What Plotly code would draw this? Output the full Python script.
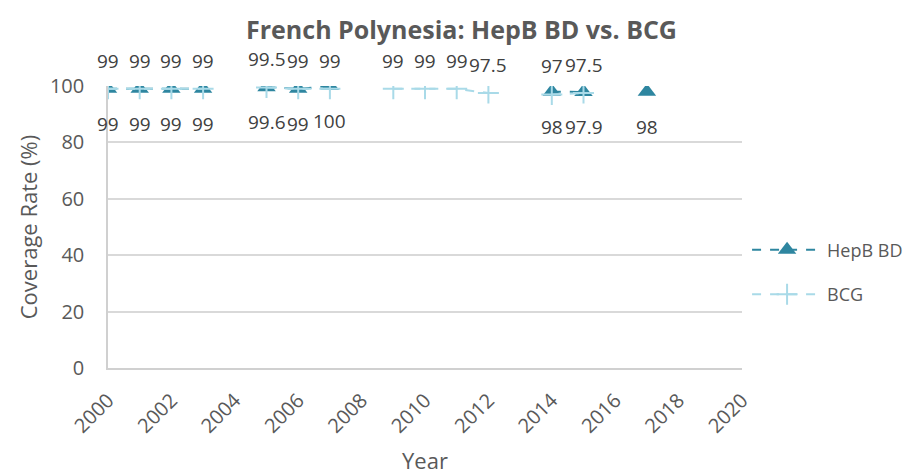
import plotly.graph_objects as go

years = list(range(2000, 2018))
hepb = [99, 99, 99, 99, None, 99.6, 99, 100, None, None, None, None, None, None, 98, 97.9, None, 98]
bcg = [99, 99, 99, 99, None, 99.5, 99, 99, None, 99, 99, 99, 97.5, None, 97, 97.5, None, None]

HEPB_COLOR = "#2E86A0"
BCG_COLOR = "#A9DAE8"
TXT = "#595959"
FONT = "Open Sans"

fig = go.Figure()
fig.add_trace(go.Scatter(
    x=years, y=hepb, name="HepB BD", mode="lines+markers", legendgroup="a",
    line=dict(color=HEPB_COLOR, width=2, dash="dash"),
    marker=dict(symbol="triangle-up", size=16, color=HEPB_COLOR),
    connectgaps=False,
))
fig.add_trace(go.Scatter(
    x=years, y=bcg, name="BCG", mode="lines+markers", legendgroup="b",
    line=dict(color=BCG_COLOR, width=2, dash="dash"),
    marker=dict(symbol="cross-thin", size=15, line=dict(color=BCG_COLOR, width=2)),
    connectgaps=False,
))

def fmt(v):
    return str(int(v)) if float(v).is_integer() else str(v)

annots = []
for x, v in zip(years, hepb):
    if v is not None:
        annots.append(dict(x=x, y=v, text=fmt(v), showarrow=False, yshift=-35,
                           font=dict(size=19, color="#404040", family=FONT)))
for x, v in zip(years, bcg):
    if v is not None:
        annots.append(dict(x=x, y=v, text=fmt(v), showarrow=False, yshift=28,
                           font=dict(size=19, color="#404040", family=FONT)))

# page body has an 8px default margin; figure is sized to fill the rest
fig.update_layout(
    width=907, height=467,
    margin=dict(l=100, r=173, t=78, b=107, autoexpand=False),
    paper_bgcolor="white", plot_bgcolor="white",
    font=dict(family=FONT, color=TXT),
    title=dict(text="<b>French Polynesia: HepB BD vs. BCG</b>", x=0.5, xanchor="center",
               y=0.952, yanchor="middle", font=dict(size=25, color=TXT, family=FONT)),
    annotations=annots,
    legend=dict(x=1.008, y=0.34, xanchor="left", yanchor="middle",
                font=dict(size=18, color=TXT, family=FONT), tracegroupgap=18,
                itemwidth=70),
    xaxis=dict(range=[2000, 2020], tickmode="linear", tick0=2000, dtick=2,
               tickangle=-45, showgrid=False, zeroline=False, automargin=False,
               showline=True, linecolor="#D0D0D0", linewidth=1.5,
               ticks="outside", ticklen=11, tickcolor="rgba(0,0,0,0)",
               tickfont=dict(size=20, color=TXT, family=FONT),
               title=dict(text="Year", font=dict(size=22, color=TXT, family=FONT), standoff=22)),
    yaxis=dict(range=[0, 100], tickmode="linear", tick0=0, dtick=20, automargin=False,
               showgrid=True, gridcolor="#D9D9D9", gridwidth=1.5, zeroline=False,
               showline=True, linecolor="#D0D0D0", linewidth=1.5,
               ticks="outside", ticklen=18, tickcolor="rgba(0,0,0,0)",
               tickfont=dict(size=20, color=TXT, family=FONT),
               title=dict(text="Coverage Rate (%)", font=dict(size=22, color=TXT, family=FONT), standoff=6)),
)

fig.write_html("out.html")
